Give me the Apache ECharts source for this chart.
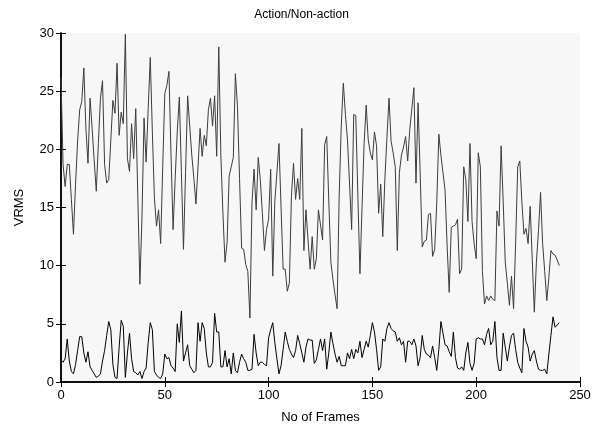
<!DOCTYPE html>
<html>
<head>
<meta charset="utf-8">
<script src="https://cdn.jsdelivr.net/npm/echarts@6/dist/echarts.min.js"></script>
<style>html,body{margin:0;padding:0;background:#fff}#c{width:603px;height:429px}</style>
</head>
<body>
<div id="c"></div>
<script>
const titleText = "Action/Non-action";
const xName = "No of Frames";
const yName = "VRMS";
const xTicks = [0, 50, 100, 150, 200, 250];
const yTicks = [0, 5, 10, 15, 20, 25, 30];

const actionVRMS = [
26.2,18.7,16.8,18.7,18.7,15.7,12.7,17.0,20.7,23.4,24.1,27.0,21.8,18.8,24.4,21.8,19.0,16.4,20.5,24.4,
25.9,18.7,17.1,17.4,20.8,24.2,23.1,27.4,21.2,23.2,22.2,29.9,19.2,18.1,22.2,19.2,23.5,16.0,8.4,14.1,
22.7,18.9,23.5,27.9,21.5,15.8,13.4,14.8,11.9,18.5,24.8,25.5,26.7,19.5,13.1,17.5,21.5,24.5,18.0,11.4,
18.0,24.6,22.0,19.5,17.5,15.3,18.5,21.8,19.4,21.2,20.3,23.4,24.4,22.0,24.6,19.4,28.8,19.5,14.5,10.3,
12.0,17.7,18.5,19.3,26.5,23.7,17.5,11.5,11.4,10.1,9.5,5.5,15.4,18.3,14.8,19.3,17.4,14.5,11.3,13.1,
14.0,18.3,9.1,15.5,18.0,20.5,15.0,9.7,9.7,7.8,8.5,16.0,18.8,15.7,17.5,15.7,21.8,11.3,14.8,12.2,
9.7,12.5,9.7,10.6,14.8,13.5,12.2,20.4,21.1,15.5,10.3,8.8,7.5,6.3,16.0,22.0,25.7,23.0,20.8,17.0,
13.1,23.0,22.9,16.0,9.3,15.0,20.5,23.8,20.8,19.7,19.1,21.5,20.3,14.5,17.0,12.5,17.4,21.0,24.4,20.7,
19.7,18.5,11.3,18.0,19.5,20.2,21.1,19.0,21.7,23.5,25.3,17.1,24.0,18.0,11.6,12.1,12.2,14.4,14.5,10.8,
11.4,15.4,21.3,19.5,18.0,16.5,11.7,7.7,13.3,13.4,13.5,14.0,9.3,9.7,18.5,17.4,13.8,20.5,13.8,11.9,
10.6,19.7,18.5,9.5,6.7,7.4,7.0,7.4,7.1,7.0,14.7,13.4,20.3,15.5,10.3,8.5,6.6,9.1,6.3,12.0,
18.5,19.0,15.5,12.7,13.2,11.9,15.1,10.5,6.0,10.3,13.0,16.3,11.9,9.5,7.0,9.0,11.3,11.0,10.9,10.5,
10.0
];

const nonActionVRMS = [
1.9,1.7,2.0,3.7,1.8,0.9,0.7,1.5,2.7,3.9,3.9,2.5,1.7,2.6,1.3,1.0,0.7,0.4,0.5,0.7,
1.8,2.7,4.0,5.2,4.5,1.5,0.4,0.3,3.0,5.3,4.8,0.4,2.5,4.2,2.0,0.9,0.8,0.6,0.9,0.3,
0.9,1.2,3.4,5.1,4.5,0.9,0.6,0.4,0.3,0.7,2.4,2.0,2.1,1.4,1.2,0.9,5.0,3.4,6.1,1.8,
2.5,3.2,1.4,1.1,0.8,1.0,5.1,3.5,5.1,4.6,2.5,1.3,1.3,1.7,5.9,4.3,4.3,1.3,1.3,2.7,
1.3,2.0,0.7,2.5,1.0,0.8,1.7,2.4,2.0,1.7,1.0,1.0,1.1,4.1,2.5,1.4,1.7,1.7,1.5,1.4,
3.8,4.5,5.1,3.4,2.0,0.7,1.4,2.8,4.3,3.5,2.8,2.4,2.1,2.7,4.0,3.3,2.5,1.7,3.0,3.7,
3.6,3.6,1.6,1.9,2.8,3.7,2.7,3.7,1.1,2.5,4.3,3.3,2.4,1.7,2.2,1.4,1.4,1.4,2.5,2.0,
2.8,2.0,2.8,2.5,3.5,2.1,2.8,3.5,3.0,4.0,5.1,4.3,2.8,1.0,1.3,3.7,3.5,4.6,5.1,4.6,
4.4,4.3,3.5,3.8,3.2,3.5,1.7,3.5,3.5,3.2,3.7,3.1,1.4,2.1,4.0,2.8,2.4,2.3,2.1,3.1,
2.1,1.0,2.8,5.2,4.2,3.2,3.1,2.6,2.2,4.3,2.1,1.2,1.1,1.3,1.0,2.5,3.4,1.6,1.0,1.6,
3.7,3.8,3.7,3.7,3.2,4.1,4.6,3.2,3.5,5.2,2.1,1.0,1.0,4.2,3.0,1.8,3.0,4.0,4.2,2.8,
1.7,1.2,0.8,4.6,3.5,3.0,1.8,2.4,2.7,1.8,1.1,1.0,1.0,1.1,0.7,2.4,4.0,5.6,4.7,4.9,
5.1
];

const toPairs = arr => arr.map((v, i) => [i, v]);
const font = '"Liberation Sans", Arial, sans-serif';

const chart = echarts.init(document.getElementById('c'), null, {renderer: 'canvas'});
const tickStyle = {show: true, inside: true, length: 5, lineStyle: {color: '#000', width: 1}};
const xBase = {
  type: 'value', min: xTicks[0], max: xTicks[xTicks.length - 1], interval: 50,
  splitLine: {show: false}, axisLine: {show: true, lineStyle: {color: '#000', width: 1.5}},
  axisTick: tickStyle
};
const yBase = {
  type: 'value', min: yTicks[0], max: yTicks[yTicks.length - 1], interval: 5,
  splitLine: {show: false}, axisLine: {show: true, lineStyle: {color: '#000', width: 1.5}},
  axisTick: tickStyle
};
chart.setOption({
  animation: false,
  backgroundColor: '#ffffff',
  title: {
    text: titleText, left: 'center', top: 4,
    textStyle: {fontFamily: font, fontSize: 12, fontWeight: 'normal', color: '#000'}
  },
  grid: {left: 61, right: 23, top: 33, bottom: 46, show: true, backgroundColor: '#f7f7f7', borderColor: '#000', borderWidth: 0},
  xAxis: [
    Object.assign({}, xBase, {
      position: 'bottom', name: xName, nameLocation: 'middle', nameGap: 29,
      nameTextStyle: {fontFamily: font, fontSize: 13, color: '#000'},
      axisLabel: {fontFamily: font, fontSize: 13, color: '#000', margin: 7}
    }),
    Object.assign({}, xBase, {position: 'top', axisLabel: {show: false}})
  ],
  yAxis: [
    Object.assign({}, yBase, {
      position: 'left', name: yName, nameLocation: 'middle', nameGap: 35,
      nameTextStyle: {fontFamily: font, fontSize: 13, color: '#000'},
      axisLabel: {fontFamily: font, fontSize: 13, color: '#000', margin: 7}
    }),
    Object.assign({}, yBase, {position: 'right', axisLabel: {show: false}})
  ],
  series: [
    {type: 'line', data: toPairs(actionVRMS), showSymbol: false, symbol: 'none',
     lineStyle: {color: '#3c3c3c', width: 1}, xAxisIndex: 0, yAxisIndex: 0},
    {type: 'line', data: toPairs(nonActionVRMS), showSymbol: false, symbol: 'none',
     lineStyle: {color: '#000', width: 1}, xAxisIndex: 0, yAxisIndex: 0}
  ]
});
</script>
</body>
</html>
